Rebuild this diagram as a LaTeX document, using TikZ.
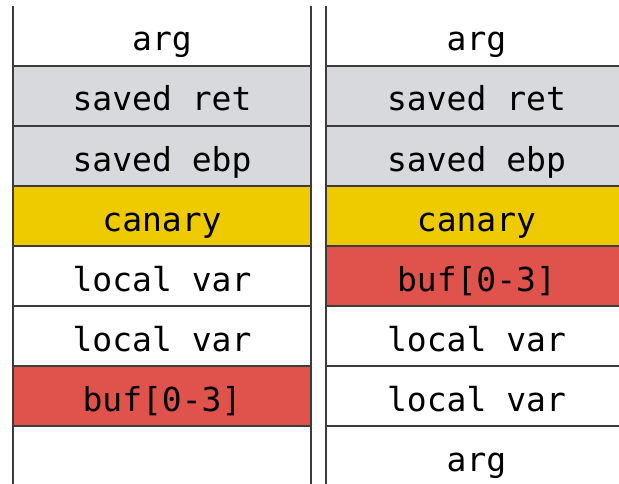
\documentclass[tikz,border=0pt]{standalone}
\usepackage{fontspec}
\newfontfamily\stackfont{DejaVu Sans Mono}
\usetikzlibrary{positioning}

\definecolor{savedgray}{RGB}{216,217,221}
\definecolor{canaryyellow}{RGB}{238,203,0}
\definecolor{bufred}{RGB}{224,82,76}
\definecolor{linegray}{RGB}{60,60,60}

\begin{document}
\begin{tikzpicture}[
		x=1pt, y=1pt,
		node distance=0pt,
		% Cell Styles
		cell/.style={rectangle, minimum height=60pt, inner sep=0pt, outer sep=0pt, text height=32pt, text depth=2pt, font=\fontsize{33}{33}\stackfont},
		leftcell/.style={cell, minimum width=298pt},
		rightcell/.style={cell, minimum width=301pt},
		plain/.style={fill=white},
		saved/.style={fill=savedgray},
		canary/.style={fill=canaryyellow},
		buffer/.style={fill=bufred},
		% Line Styles
		sep_line/.style={draw=linegray, line width=1.3pt}
		]
		
		\useasboundingbox (0,0) rectangle (619,483);
		\clip (0,0) rectangle (619,483);
		
		% --- LEFT STACK ---
		\node[leftcell, plain, anchor=north] (L1) at (162,477) {arg};
		\node[leftcell, saved, below=of L1] (L2) {saved ret};
		\node[leftcell, saved, below=of L2] (L3) {saved ebp};
		\node[leftcell, canary, below=of L3] (L4) {canary};
		\node[leftcell, plain, below=of L4] (L5) {local var};
		\node[leftcell, plain, below=of L5] (L6) {local var};
		\node[leftcell, buffer, below=of L6] (L7) {buf[0-3]};
		\node[leftcell, plain, below=of L7] (L8) {};
		
		% --- RIGHT STACK ---
		\node[rightcell, plain, anchor=north] (R1) at (476.5,477) {arg};
		\node[rightcell, saved, below=of R1] (R2) {saved ret};
		\node[rightcell, saved, below=of R2] (R3) {saved ebp};
		\node[rightcell, canary, below=of R3] (R4) {canary};
		\node[rightcell, buffer, below=of R4] (R5) {buf[0-3]};
		\node[rightcell, plain, below=of R5] (R6) {local var};
		\node[rightcell, plain, below=of R6] (R7) {local var};
		\node[rightcell, plain, below=of R7] (R8) {arg};
		
		% ================= LINES =================
		\foreach \i in {1,...,7} {
			\draw[sep_line] (L\i.south west) -- (L\i.south east);
			\draw[sep_line] (R\i.south west) -- (R\i.south east);
		}
		
		% Side walls
		\draw[sep_line] (L1.north west) -- (L8.south west);
		\draw[sep_line] (L1.north east) -- (L8.south east);
		\draw[sep_line] (R1.north west) -- (R8.south west);
		
	\end{tikzpicture}
\end{document}
